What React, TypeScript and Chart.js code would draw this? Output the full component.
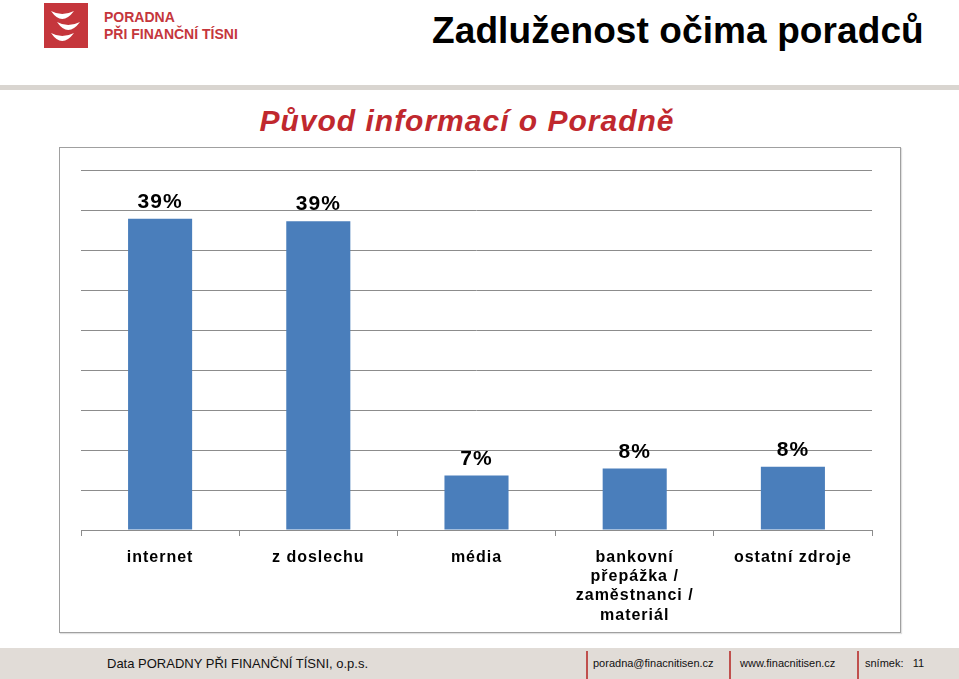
import React, { useEffect, useRef } from "react";
import { Chart, registerables } from "chart.js";

Chart.register(...registerables);

const categories: (string | string[])[] = [
  "internet",
  "z doslechu",
  "média",
  ["bankovní", "přepážka /", "zaměstnanci /", "materiál"],
  "ostatní zdroje",
];
const values: number[] = [38.9, 38.6, 6.8, 7.7, 7.9];
const yMax = 45;
const yStep = 5;

const FONT = "Arial, 'Liberation Sans', sans-serif";

const valueLabelPlugin = {
  id: "valueLabels",
  beforeDraw(chart: any) {
    chart.ctx.letterSpacing = "1px";
  },
  afterDatasetsDraw(chart: any) {
    const ctx = chart.ctx;
    const meta = chart.getDatasetMeta(0);
    ctx.save();
    ctx.letterSpacing = "1px";
    ctx.font = `bold 21px ${FONT}`;
    ctx.fillStyle = "#000";
    ctx.textAlign = "center";
    ctx.textBaseline = "middle";
    meta.data.forEach((el: any, i: number) => {
      ctx.fillText(Math.round(values[i]) + "%", el.x, el.y - 16.5);
    });
    ctx.restore();
  },
};

function BarChart() {
  const ref = useRef<HTMLCanvasElement | null>(null);
  useEffect(() => {
    if (!ref.current) return;
    const chart = new Chart(ref.current, {
      type: "bar",
      data: {
        labels: categories,
        datasets: [
          {
            data: values,
            backgroundColor: "#4a7ebb",
            borderWidth: 0,
            barPercentage: 0.405,
            categoryPercentage: 1,
          },
        ],
      },
      options: {
        animation: false,
        responsive: false,
        maintainAspectRatio: false,
        layout: { padding: { left: 21, right: 28, top: 22, bottom: 0 } },
        plugins: {
          legend: { display: false },
          tooltip: { enabled: false },
          title: { display: false },
        },
        scales: {
          x: {
            offset: true,
            grid: {
              offset: true,
              drawOnChartArea: false,
              drawTicks: true,
              tickLength: 6,
              color: "#8c8c8c",
            },
            border: { display: true, color: "#8c8c8c", width: 1 },
            ticks: {
              color: "#000",
              font: { family: FONT, size: 16, weight: "bold", lineHeight: 1.2 },
              padding: 12,
              maxRotation: 0,
              autoSkip: false,
            },
            afterFit: (s: any) => {
              s.height = 102;
            },
          },
          y: {
            min: 0,
            max: yMax,
            ticks: { display: false, stepSize: yStep },
            grid: { color: "#8c8c8c", drawTicks: false, lineWidth: 1 },
            border: { display: false },
          },
        },
      },
      plugins: [valueLabelPlugin],
    });
    return () => chart.destroy();
  }, []);
  return (
    <canvas
      ref={ref}
      width={840}
      height={484}
      style={{ position: "absolute", left: 60, top: 148, width: 840, height: 484 }}
    />
  );
}

export default function App() {
  const red = "#c5363c";
  return (
    <div
      style={{
        position: "fixed",
        left: 0,
        top: 0,
        width: 959,
        height: 679,
        background: "#fff",
        overflow: "hidden",
        fontFamily: FONT,
      }}
    >
      {/* logo */}
      <svg
        width={44}
        height={45}
        style={{ position: "absolute", left: 44, top: 3 }}
        viewBox="0 0 44 45"
      >
        <rect x={0} y={0} width={44} height={45} fill={red} />
        <path d="M 7 8 Q 18 24 30 8 Q 18 14 7 8 Z" fill="#fff" />
        <path d="M 13 19 Q 24 35 36 19 Q 24 25 13 19 Z" fill="#fff" />
        <path d="M 7 30 Q 18 46 30 30 Q 18 36 7 30 Z" fill="#fff" />
      </svg>
      <div
        style={{
          position: "absolute",
          left: 104,
          top: 9,
          color: red,
          fontSize: 14,
          lineHeight: "17px",
          fontWeight: "bold",
          whiteSpace: "nowrap",
        }}
      >
        <div>PORADNA</div>
        <div>PŘI FINANČNÍ TÍSNI</div>
      </div>
      {/* title */}
      <div
        style={{
          position: "absolute",
          left: 432,
          top: 10,
          fontSize: 37,
          lineHeight: "42px",
          fontWeight: "bold",
          letterSpacing: "0.1px",
          color: "#000",
          whiteSpace: "nowrap",
        }}
      >
        Zadluženost očima poradců
      </div>
      {/* gray band */}
      <div
        style={{
          position: "absolute",
          left: 0,
          top: 85,
          width: 959,
          height: 5,
          background: "#d9d5d0",
        }}
      />
      {/* subtitle */}
      <div
        style={{
          position: "absolute",
          left: 0,
          width: 934,
          top: 103,
          textAlign: "center",
          fontSize: 30,
          lineHeight: "36px",
          fontWeight: "bold",
          fontStyle: "italic",
          letterSpacing: "1px",
          color: "#c0282e",
          whiteSpace: "nowrap",
        }}
      >
        Původ informací o Poradně
      </div>
      {/* chart box */}
      <div
        style={{
          position: "absolute",
          left: 59,
          top: 147,
          width: 840,
          height: 484,
          border: "1px solid #a0a0a0",
          boxShadow: "1px 1px 1px rgba(0,0,0,0.12)",
        }}
      />
      <BarChart />
      {/* footer */}
      <div
        style={{
          position: "absolute",
          left: 0,
          top: 648,
          width: 959,
          height: 31,
          background: "#e1dcd7",
        }}
      />
      <div
        style={{
          position: "absolute",
          left: 107,
          top: 656,
          fontSize: 13,
          lineHeight: "16px",
          color: "#111",
          whiteSpace: "nowrap",
        }}
      >
        Data PORADNY PŘI FINANČNÍ TÍSNI, o.p.s.
      </div>
      {[586, 729, 857].map((x) => (
        <div
          key={x}
          style={{
            position: "absolute",
            left: x,
            top: 651,
            width: 1.5,
            height: 28,
            background: "#c0504d",
          }}
        />
      ))}
      <div
        style={{
          position: "absolute",
          left: 593,
          top: 656,
          fontSize: 11,
          lineHeight: "14px",
          color: "#111",
          whiteSpace: "nowrap",
        }}
      >
        poradna@finacnitisen.cz
      </div>
      <div
        style={{
          position: "absolute",
          left: 740,
          top: 656,
          fontSize: 11,
          lineHeight: "14px",
          color: "#111",
          whiteSpace: "nowrap",
        }}
      >
        www.finacnitisen.cz
      </div>
      <div
        style={{
          position: "absolute",
          left: 865,
          top: 656,
          fontSize: 11,
          lineHeight: "14px",
          color: "#111",
          whiteSpace: "nowrap",
        }}
      >
        snímek:&nbsp;&nbsp;&nbsp;11
      </div>
    </div>
  );
}
